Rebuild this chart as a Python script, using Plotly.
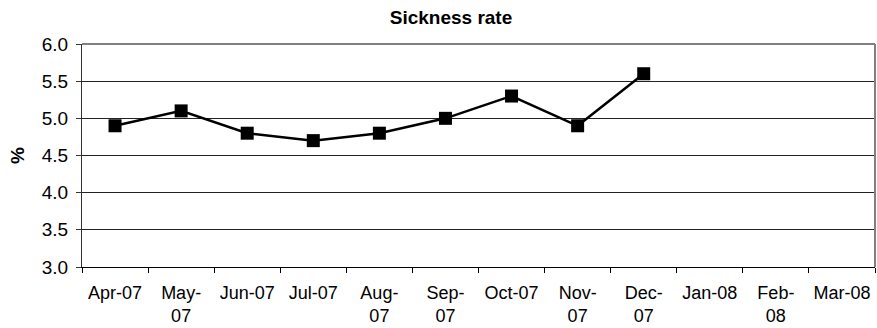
import plotly.graph_objects as go

# Monthly sickness rate, financial year 2007/08
months = ["Apr-07", "May-07", "Jun-07", "Jul-07", "Aug-07", "Sep-07",
          "Oct-07", "Nov-07", "Dec-07", "Jan-08", "Feb-08", "Mar-08"]
tick_labels = ["Apr-07", "May-<br>07", "Jun-07", "Jul-07", "Aug-<br>07", "Sep-<br>07",
               "Oct-07", "Nov-<br>07", "Dec-<br>07", "Jan-08", "Feb-<br>08", "Mar-08"]
rate = [4.9, 5.1, 4.8, 4.7, 4.8, 5.0, 5.3, 4.9, 5.6]

y_ticks = [3.0, 3.5, 4.0, 4.5, 5.0, 5.5, 6.0]

font_family = "Liberation Sans, Arial, sans-serif"

fig = go.Figure()
fig.add_trace(go.Scatter(
    x=months[:len(rate)],
    y=rate,
    mode="lines+markers",
    line=dict(color="black", width=2.5),
    marker=dict(symbol="square", size=13, color="black"),
    showlegend=False,
))

fig.update_layout(
    width=877,
    height=328,
    margin=dict(l=82, r=2, t=44, b=61),
    paper_bgcolor="white",
    plot_bgcolor="white",
    font=dict(family=font_family, size=19, color="black"),
    title=dict(text="<b>Sickness rate</b>", x=451 / 877, xanchor="center",
               y=1 - 17 / 328, yanchor="middle", font=dict(size=19)),
)

fig.update_xaxes(
    type="category",
    categoryorder="array",
    categoryarray=months,
    tickmode="array",
    tickvals=months,
    ticktext=tick_labels,
    range=[-0.5, len(months) - 0.5],
    tickson="boundaries",
    tickangle=0,
    automargin=False,
    ticks="outside",
    ticklen=5,
    tickcolor="black",
    showline=True,
    linecolor="black",
    linewidth=1,
    showgrid=False,
    mirror=False,
    tickfont=dict(size=18),
    ticklabelstandoff=9,
)

fig.update_yaxes(
    range=[3.0, 6.0],
    tickmode="array",
    tickvals=y_ticks,
    ticktext=[f"{v:.1f}" for v in y_ticks],
    automargin=False,
    ticks="outside",
    ticklen=5,
    tickcolor="#333333",
    showline=True,
    linecolor="#333333",
    linewidth=1,
    showgrid=True,
    gridcolor="#222222",
    gridwidth=1,
    zeroline=False,
    tickfont=dict(size=19),
    ticklabelstandoff=4,
    title=dict(text="<b>%</b>", font=dict(size=19), standoff=12),
)

# grey plot-area border on the top and right edges
fig.add_shape(type="line", xref="paper", yref="paper", x0=0, x1=1, y0=1, y1=1,
              line=dict(color="#808080", width=2))
fig.add_shape(type="line", xref="paper", yref="paper", x0=1, x1=1, y0=0, y1=1,
              line=dict(color="#808080", width=2))

fig.write_html("out.html")
